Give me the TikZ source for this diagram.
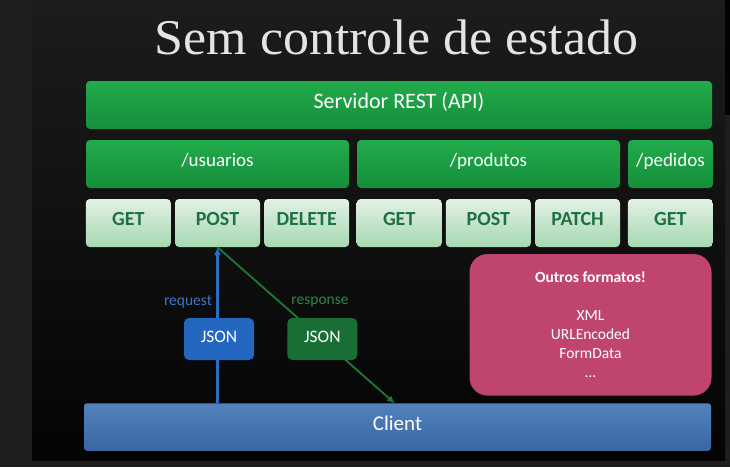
\documentclass[tikz,border=0pt]{standalone}
\usepackage{fontspec}
\setmainfont{Carlito}
\newfontfamily\titlefont{Liberation Serif}
\usetikzlibrary{arrows.meta}

\definecolor{frame}{HTML}{1E1E1E}
\definecolor{slidetop}{HTML}{1C1C1C}
\definecolor{slidebot}{HTML}{040404}
\definecolor{titlegray}{HTML}{E4E4E4}
\definecolor{srvtop}{HTML}{22AB4C}
\definecolor{srvbot}{HTML}{168E3B}
\definecolor{mthtop}{HTML}{E2F1E5}
\definecolor{mthbot}{HTML}{A6D8B1}
\definecolor{mthtext}{HTML}{1E7242}
\definecolor{pinkbox}{HTML}{BF4570}
\definecolor{clitop}{HTML}{5282BD}
\definecolor{clibot}{HTML}{3966A2}
\definecolor{reqblue}{HTML}{2A6DC5}
\definecolor{reqbox}{HTML}{2467C1}
\definecolor{reqtext}{HTML}{3777CC}
\definecolor{resgreen}{HTML}{1C7A37}
\definecolor{resbox}{HTML}{196E35}
\definecolor{restext}{HTML}{2A8C45}

\tikzset{
  greenbar/.style={rectangle, rounded corners=4pt, inner sep=0pt,
    top color=srvtop, bottom color=srvbot, text=white},
  method/.style={rectangle, rounded corners=4pt, inner sep=0pt,
    minimum width=85pt, minimum height=48pt,
    text height=5pt, text depth=0pt,
    top color=mthtop, bottom color=mthbot, text=mthtext,
    font=\bfseries\fontsize{20}{22}\selectfont},
  resource/.style={greenbar, minimum height=48pt,
    text height=5pt, text depth=0pt,
    font=\fontsize{19}{22}\selectfont},
  payload/.style={rectangle, rounded corners=5pt, inner sep=0pt,
    minimum width=70pt, minimum height=42pt, text=white,
    text height=7.5pt, text depth=0pt,
    font=\fontsize{17.5}{20}\selectfont},
  flowlabel/.style={inner sep=0pt, font=\fontsize{15.5}{18}\selectfont},
  flow/.style={line width=2.2pt},
  tip/.style={-{Latex[length=8pt,width=7pt]}}
}

\begin{document}
\begin{tikzpicture}[x=1pt,y=-1pt]
  \useasboundingbox (0,0) rectangle (730,467);
  % frame and slide background
  \fill[frame] (0,0) rectangle (730,467);
  \fill[top color=slidetop, bottom color=slidebot] (32,0) rectangle (725,460);
  \fill[black!90!frame] (725,0) rectangle (730,115);

  % title
  \node[text=titlegray, inner sep=0pt, anchor=base, xscale=1.04,
        font=\titlefont\fontsize{50}{58}\selectfont] (title) at (396.5,54.5)
        {Sem controle de estado};

  % server and resources
  \node[greenbar, minimum width=626pt, minimum height=48pt,
        text height=6pt, text depth=0pt,
        font=\fontsize{22}{26}\selectfont] (server) at (399,105) {Servidor REST (API)};
  \node[resource, minimum width=263pt] (usuarios) at (217.5,164) {/usuarios};
  \node[resource, minimum width=263pt] (produtos) at (488.5,164) {/produtos};
  \node[resource, minimum width=85pt]  (pedidos)  at (670.5,164) {/pedidos};

  % HTTP methods
  \node[method] (uget)    at (128.3,223) {GET};
  \node[method] (upost)   at (217.5,223) {POST};
  \node[method] (udelete) at (306.7,223) {DELETE};
  \node[method] (pget)    at (399.2,223) {GET};
  \node[method] (ppost)   at (488.3,223) {POST};
  \node[method] (ppatch)  at (577.5,223) {PATCH};
  \node[method] (dget)    at (670.3,223) {GET};

  % other formats
  \node[rectangle, rounded corners=18pt, fill=pinkbox, text=white,
        minimum width=242pt, minimum height=141.5pt, inner sep=0pt,
        align=center, font=\fontsize{15.5}{19}\selectfont] (formats) at (590.5,324.8)
        {\textbf{Outros formatos!}\\[19pt]XML\\URLEncoded\\FormData\\…};

  % client
  \node[rectangle, rounded corners=3pt, inner sep=0pt,
        minimum width=627pt, minimum height=47.5pt,
        text height=7.5pt, text depth=0pt,
        top color=clitop, bottom color=clibot, text=white,
        font=\fontsize{21}{25}\selectfont] (client) at (397.5,427) {Client};

  % request / response
  \coordinate (resend) at (395,403.5);
  \draw[flow, reqblue, tip] (upost.south |- client.north) -- (upost.south);
  \draw[flow, resgreen, tip, line width=1.8pt] (upost.south) -- (resend);

  \node[payload, fill=reqbox] (reqjson) at (219,339) {JSON};
  \node[payload, fill=resbox] (resjson) at (322.3,339) {JSON};
  \node[flowlabel, text=reqtext] (reqlabel) at (188,302) {request};
  \node[flowlabel, text=restext] (reslabel) at (320,302) {response};
\end{tikzpicture}
\end{document}
